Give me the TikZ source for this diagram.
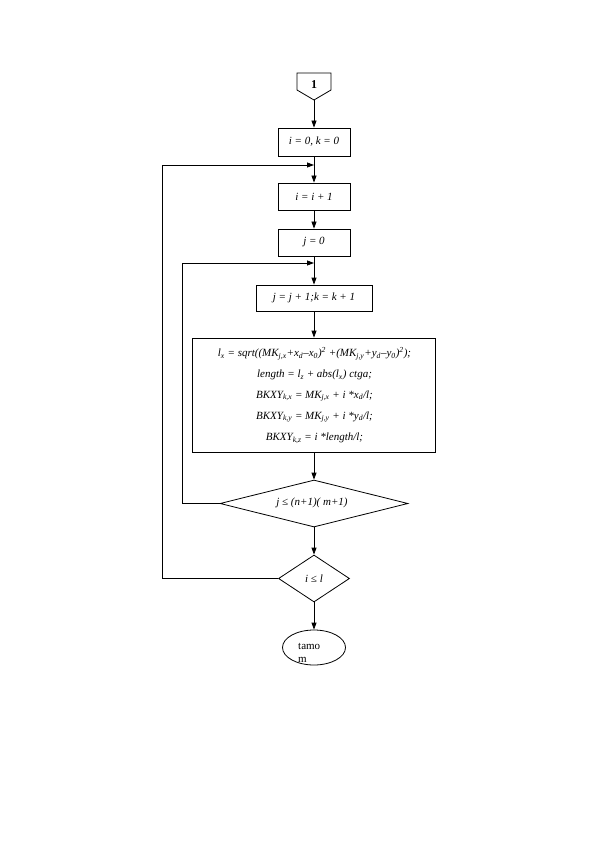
\documentclass[tikz,border=0pt]{standalone}
\usepackage{fontspec}
\setmainfont{Liberation Serif}
\usetikzlibrary{shapes.geometric,arrows.meta}
\begin{document}
\begin{tikzpicture}[x=1pt,y=-1pt,
  every node/.style={font=\fontsize{11}{13}\selectfont\itshape},
  line/.style={draw=black,line width=0.8pt},
  arr/.style={line,-{Triangle[length=7pt,width=5pt]}},
  stepbox/.style={draw=black,line width=0.8pt,rectangle,inner sep=0pt,align=center},
  decide/.style={draw=black,line width=0.8pt,diamond,inner sep=0pt}]
\useasboundingbox (0,0) rectangle (595,842);
% off-page connector
\draw[line] (297,73) -- (331,73) -- (331,90) -- (314,100) -- (297,90) -- cycle;
\node[font=\fontsize{12}{14}\selectfont\bfseries] (c1) at (314,85) {1};
\coordinate (c1b) at (314,100);
\node[stepbox,minimum width=72pt,minimum height=28pt] (b1) at (314,142) {i = 0, k = 0};
\node[stepbox,minimum width=72pt,minimum height=27pt] (b2) at (314,196.5) {i = i + 1};
\node[stepbox,minimum width=72pt,minimum height=27pt] (b3) at (314,242.5) {j = 0};
\node[stepbox,minimum width=116pt,minimum height=26pt] (b4) at (314,298) {j = j + 1;k = k + 1};
\node[stepbox,minimum width=243pt,minimum height=114pt] (b5) at (314,395) {};
\node (t1) at (314.5,354) {l\textsubscript{x} = sqrt((MK\textsubscript{j,x}+x\textsubscript{d}–x\textsubscript{0})\textsuperscript{2} +(MK\textsubscript{j,y}+y\textsubscript{d}–y\textsubscript{0})\textsuperscript{2});};
\node (t2) at (314.5,375) {length = l\textsubscript{z} + abs(l\textsubscript{x}) ctga;};
\node (t3) at (314.5,396) {BKXY\textsubscript{k,x} = MK\textsubscript{j,x} + i *x\textsubscript{d}/l;};
\node (t4) at (314.5,417) {BKXY\textsubscript{k,y} = MK\textsubscript{j,y} + i *y\textsubscript{d}/l;};
\node (t5) at (314.5,438) {BKXY\textsubscript{k,z} = i *length/l;};
\node[decide,minimum width=188pt,minimum height=47pt,aspect=4] (d1) at (314,503.5) {};
\node (d1t) at (312,503) {j ≤ (n+1)( m+1)};
\node[decide,minimum width=71pt,minimum height=47pt,aspect=1.5] (d2) at (314,578.5) {i ≤ l};
\node[draw=black,line width=0.8pt,ellipse,minimum width=63pt,minimum height=35pt,inner sep=0pt] (e1) at (314,647.5) {};
\node[anchor=north west,align=left,font=\fontsize{11}{13}\selectfont,inner sep=0pt] (e1t) at (298,643.5) {tamo\\m};
% connectors
\draw[arr] (c1b) -- (b1.north);
\draw[arr] (b1.south) -- (b2.north);
\draw[arr] (b2.south) -- (b3.north);
\draw[arr] (b3.south) -- (b4.north);
\draw[arr] (b4.south) -- (b5.north);
\draw[arr] (b5.south) -- (d1.north);
\draw[arr] (d1.south) -- (d2.north);
\draw[arr] (d2.south) -- (e1.north);
\coordinate (j1) at (314,263);
\coordinate (j2) at (314,165);
\coordinate (L1) at (182,263);
\coordinate (L2) at (162,165);
\draw[arr] (d1.west) -| (L1) -- (j1);
\draw[arr] (d2.west) -| (L2) -- (j2);
\end{tikzpicture}
\end{document}
